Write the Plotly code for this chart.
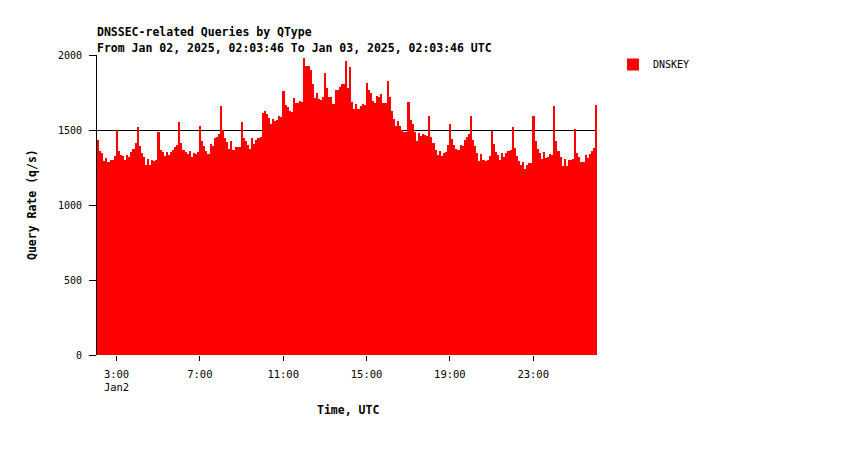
import datetime as dt
import plotly.graph_objects as go

# ---- data (6-minute bins, 24 hours) ----
start = dt.datetime(2025, 1, 2, 2, 3, 46)
bin_minutes = 6
dnskey = [
    1433, 1362, 1347, 1293, 1313, 1287, 1300, 1300, 1327, 1500,
    1362, 1331, 1324, 1300, 1333, 1320, 1353, 1373, 1413, 1520,
    1393, 1344, 1320, 1267, 1307, 1267, 1300, 1296, 1300, 1487,
    1367, 1353, 1327, 1353, 1333, 1353, 1367, 1387, 1400, 1553,
    1413, 1367, 1353, 1340, 1360, 1320, 1347, 1342, 1353, 1527,
    1427, 1393, 1360, 1340, 1407, 1393, 1447, 1453, 1473, 1660,
    1500, 1447, 1420, 1373, 1427, 1367, 1387, 1387, 1387, 1553,
    1447, 1427, 1400, 1373, 1447, 1407, 1433, 1447, 1453, 1613,
    1627, 1607, 1580, 1540, 1573, 1560, 1567, 1593, 1587, 1760,
    1667, 1653, 1627, 1620, 1713, 1680, 1680, 1693, 1687, 1980,
    1930, 1930, 1900, 1810, 1713, 1747, 1707, 1700, 1720, 1880,
    1780, 1720, 1720, 1673, 1767, 1767, 1787, 1807, 1807, 1960,
    1780, 1920, 1687, 1640, 1673, 1640, 1660, 1673, 1667, 1813,
    1767, 1747, 1693, 1680, 1727, 1720, 1740, 1680, 1680, 1827,
    1720, 1627, 1573, 1527, 1560, 1527, 1500, 1487, 1487, 1687,
    1567, 1540, 1487, 1427, 1480, 1460, 1473, 1467, 1460, 1593,
    1453, 1413, 1367, 1333, 1360, 1327, 1347, 1353, 1400, 1540,
    1440, 1400, 1373, 1367, 1400, 1393, 1433, 1453, 1473, 1593,
    1433, 1393, 1347, 1293, 1340, 1300, 1293, 1300, 1327, 1496,
    1407, 1353, 1333, 1300, 1347, 1320, 1347, 1360, 1367, 1520,
    1380, 1327, 1293, 1267, 1287, 1240, 1267, 1280, 1280, 1593,
    1427, 1373, 1347, 1307, 1353, 1313, 1320, 1340, 1333, 1660,
    1427, 1360, 1320, 1260, 1307, 1260, 1300, 1300, 1307, 1507,
    1347, 1320, 1287, 1287, 1333, 1313, 1340, 1360, 1380, 1667,
]
series_name = "DNSKEY"

y_ticks = [0, 500, 1000, 1500, 2000]
x_tick_times = ["2025-01-02 03:00", "2025-01-02 07:00", "2025-01-02 11:00",
                "2025-01-02 15:00", "2025-01-02 19:00", "2025-01-02 23:00"]
x_tick_labels = ["3:00<br>Jan2", "7:00", "11:00", "15:00", "19:00", "23:00"]

title_line1 = "DNSSEC-related Queries by QType"
title_line2 = "From Jan 02, 2025, 02:03:46 To Jan 03, 2025, 02:03:46 UTC"

# ---- derived ----
step = dt.timedelta(minutes=bin_minutes)
x_centers = [start + step * (i + 0.5) for i in range(len(dnskey))]
end = start + dt.timedelta(hours=24)

MONO = "DejaVu Sans Mono"

fig = go.Figure()
fig.add_trace(go.Bar(
    x=x_centers, y=dnskey, name=series_name,
    width=bin_minutes * 60 * 1000,
    marker=dict(color="#ff0000", line=dict(width=0)),
    showlegend=True,
))

fig.update_layout(
    width=850, height=450,
    margin=dict(l=97, r=253, t=55, b=95, pad=0),
    paper_bgcolor="white", plot_bgcolor="white",
    bargap=0,
    font=dict(family=MONO, size=10, color="black"),
    showlegend=True,
    legend=dict(x=1.032, y=1 + 5 / 300, xanchor="left", yanchor="top",
                font=dict(family=MONO, size=10, color="black"),
                bgcolor="rgba(0,0,0,0)", tracegroupgap=0),
    xaxis=dict(
        range=[start, end], type="date",
        tickvals=x_tick_times, ticktext=x_tick_labels,
        ticks="outside", ticklen=5, tickcolor="black", tickwidth=1,
        ticklabelstandoff=4,
        showgrid=False, showline=False, zeroline=False,
        tickfont=dict(family=MONO, size=10.5, color="black"),
    ),
    yaxis=dict(
        range=[0, 2000], tickvals=y_ticks,
        ticks="outside", ticklen=7, tickcolor="black", tickwidth=1,
        ticklabelstandoff=5,
        showgrid=True, gridcolor="black", gridwidth=1,
        showline=True, linecolor="black", linewidth=1,
        zeroline=False, layer="below traces",
        tickfont=dict(family=MONO, size=10, color="black"),
    ),
    annotations=[
        dict(text="<b>%s</b>" % title_line1, xref="paper", yref="paper",
             x=-2 / 500, y=1 + (55 - 32) / 300, xanchor="left", yanchor="middle",
             showarrow=False, font=dict(family=MONO, size=11.5, color="black")),
        dict(text="<b>%s</b>" % title_line2, xref="paper", yref="paper",
             x=-2 / 500, y=1 + (55 - 48) / 300, xanchor="left", yanchor="middle",
             showarrow=False, font=dict(family=MONO, size=11.5, color="black")),
        dict(text="<b>Query Rate (q/s)</b>", xref="paper", yref="paper",
             x=(32 - 97) / 500, y=0.5, xanchor="center", yanchor="middle",
             textangle=-90, showarrow=False,
             font=dict(family=MONO, size=11.5, color="black")),
        dict(text="<b>Time, UTC</b>", xref="paper", yref="paper",
             x=(348 - 97) / 500, y=-(410 - 355) / 300, xanchor="center",
             yanchor="middle", showarrow=False,
             font=dict(family=MONO, size=11.5, color="black")),
    ],
)

fig.write_html("out.html")
